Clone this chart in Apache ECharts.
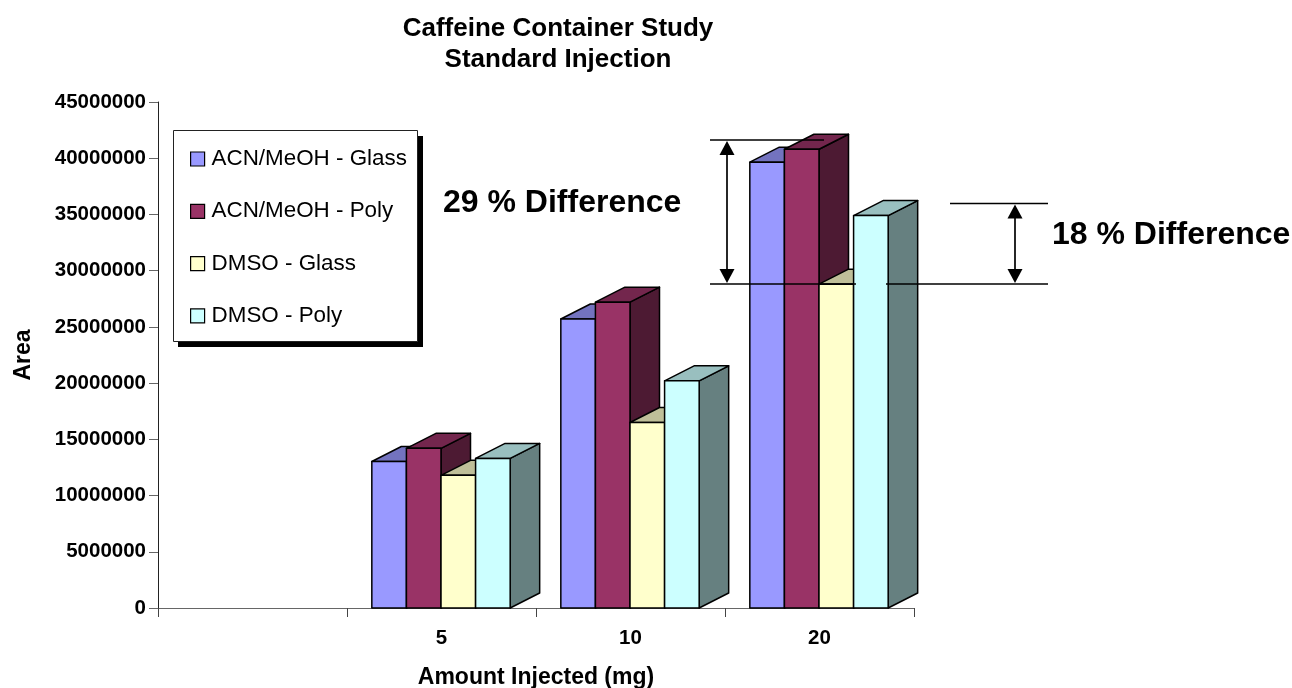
<!DOCTYPE html>
<html><head><meta charset="utf-8">
<style>html,body{margin:0;padding:0;background:#fff}#c{width:1292px;height:688px}</style>
<script src="https://cdn.jsdelivr.net/npm/echarts@6/dist/echarts.min.js"></script>
</head><body><div id="c"></div>
<script>
const categories = ['', '5', '10', '20'];
const acnGlass = [null, 13030000, 25700000, 39650000];
const acnPoly  = [null, 14200000, 27200000, 40800000];
const dmsoGlass = [null, 11800000, 16500000, 28800000];
const dmsoPoly  = [null, 13300000, 20200000, 34900000];
const seriesNames = ['ACN/MeOH - Glass', 'ACN/MeOH - Poly', 'DMSO - Glass', 'DMSO - Poly'];
const seriesValues = [acnGlass, acnPoly, dmsoGlass, dmsoPoly];
const frontColors = ['#9999FF', '#993366', '#FFFFCC', '#CCFFFF'];
const topColors = ['#7373BF', '#73264D', '#BFBF99', '#99BFBF'];
const sideColors = ['#4D4D80', '#4D1A33', '#808066', '#668080'];
const FONT = '"Liberation Sans", Arial, sans-serif';
const DX = 29.5, DY = 15, BAR_RATIO = 0.183;

function renderBar(params, api) {
  const s = params.seriesIndex;
  const band = api.size([1, 0])[0];
  const w = band * BAR_RATIO;
  const top = api.coord([api.value(0), api.value(1)]);
  const base = api.coord([api.value(0), 0]);
  const x = top[0] - 0.5 + (s - 2) * w;
  const y = top[1], b = base[1], r = x + w;
  const st = c => ({ fill: c, stroke: '#000', lineWidth: 1.5, lineJoin: 'round' });
  const poly = (pts, c) => ({ type: 'polygon', shape: { points: pts }, style: st(c) });
  return { type: 'group', silent: true, children: [
    poly([[r, y], [r + DX, y - DY], [r + DX, b - DY], [r, b]], sideColors[s]),
    poly([[x, y], [x + DX, y - DY], [r + DX, y - DY], [r, y]], topColors[s]),
    poly([[x, y], [r, y], [r, b], [x, b]], frontColors[s])
  ]};
}

function annLine(x1, y1, x2, y2) {
  return { type: 'line', z: 100, shape: { x1, y1, x2, y2 }, style: { stroke: '#000', lineWidth: 1.7 } };
}
function arrow(x, y1, y2) {
  const hw = 7.5, hh = 15;
  return [
    annLine(x, y1 + 5, x, y2 - 5),
    { type: 'polygon', z: 100, shape: { points: [[x, y1 + 1], [x - hw, y1 + hh], [x + hw, y1 + hh]] }, style: { fill: '#000' } },
    { type: 'polygon', z: 100, shape: { points: [[x, y2 - 1], [x - hw, y2 - hh], [x + hw, y2 - hh]] }, style: { fill: '#000' } }
  ];
}
function annText(x, y, t) {
  return { type: 'text', z: 100, x, y, style: { text: t, font: 'bold 32px ' + FONT, fill: '#000', verticalAlign: 'middle', textVerticalAlign: 'middle' } };
}

const chart = echarts.init(document.getElementById('c'), null, { renderer: 'canvas' });
chart.setOption({
  animation: false,
  backgroundColor: '#fff',
  title: {
    text: 'Caffeine Container Study\nStandard Injection',
    left: 553, top: 8, textAlign: 'center',
    textStyle: { fontFamily: FONT, fontWeight: 'bold', fontSize: 26, lineHeight: 31, color: '#000' }
  },
  grid: { left: 158, right: 378, top: 102, bottom: 80, outerBoundsMode: 'none' },
  legend: {
    orient: 'vertical', left: 190, top: 148, z: 20,
    padding: 0,
    icon: 'rect',
    itemWidth: 14, itemHeight: 14, itemGap: 30.3,
    data: seriesNames,
    textStyle: { fontFamily: FONT, fontSize: 22.4, color: '#000', padding: [0, 0, 0, 2] },
    itemStyle: { borderColor: '#000', borderWidth: 1.2 }
  },
  xAxis: {
    type: 'category', data: categories,
    name: 'Amount Injected (mg)', nameLocation: 'middle', nameGap: 58,
    nameTextStyle: { fontFamily: FONT, fontWeight: 'bold', fontSize: 23, color: '#000' },
    axisLine: { lineStyle: { color: '#666', width: 1 } },
    axisTick: { show: true, alignWithLabel: false, length: 9, lineStyle: { color: '#444' } },
    axisLabel: { interval: 0, margin: 20, fontFamily: FONT, fontWeight: 'bold', fontSize: 20.5, color: '#000' }
  },
  yAxis: {
    type: 'value', min: 0, max: 45000000, interval: 5000000,
    name: 'Area', nameLocation: 'middle', nameGap: 123,
    nameTextStyle: { fontFamily: FONT, fontWeight: 'bold', fontSize: 23, color: '#000' },
    splitLine: { show: false },
    axisLine: { show: true, lineStyle: { color: '#222', width: 1 } },
    axisTick: { show: true, length: 9, lineStyle: { color: '#666' } },
    axisLabel: { margin: 12, fontFamily: FONT, fontWeight: 'bold', fontSize: 20.5, color: '#000', formatter: v => String(v) }
  },
  series: seriesNames.map((name, i) => ({
    type: 'custom', name, clip: false, z: 5,
    renderItem: renderBar,
    itemStyle: { color: frontColors[i] },
    encode: { x: 0, y: 1 },
    data: seriesValues[i].map((v, k) => [k, v]).filter(d => d[1] !== null)
  })),
  graphic: { elements: [
    { type: 'rect', z: 10, shape: { x: 178, y: 136, width: 245, height: 211 }, style: { fill: '#000' } },
    { type: 'rect', z: 11, shape: { x: 173.5, y: 130.5, width: 244, height: 211 }, style: { fill: '#fff', stroke: '#222', lineWidth: 1 } },
    annLine(710, 140, 824, 140),
    annLine(710, 284, 856, 284),
    annLine(886, 284, 1048, 284),
    annLine(950, 203.5, 1048, 203.5),
    ...arrow(727, 140, 284),
    ...arrow(1015, 203.5, 284),
    annText(443, 203, '29 % Difference'),
    annText(1052, 235, '18 % Difference')
  ]}
});
</script></body></html>
